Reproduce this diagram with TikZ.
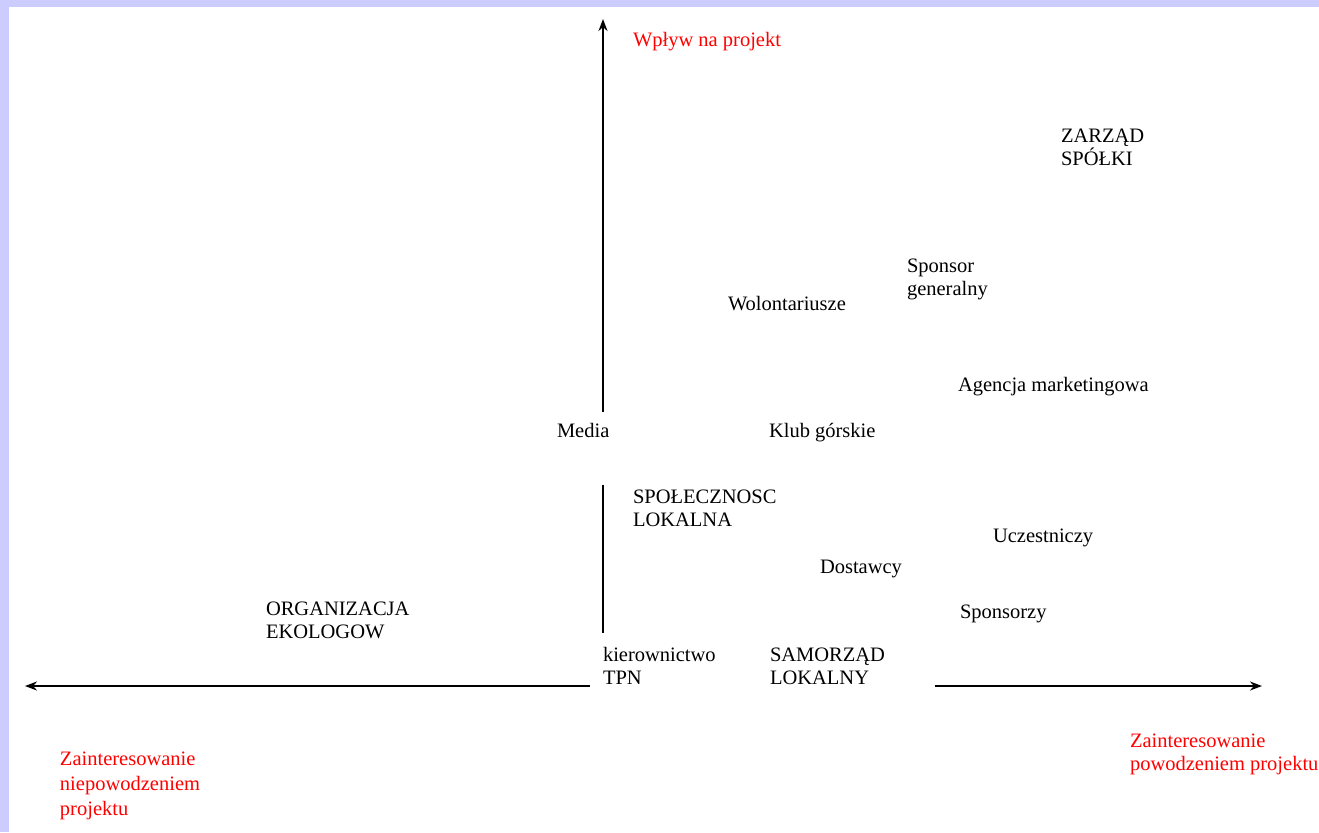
\documentclass[tikz,border=0pt]{standalone}
\usepackage{fontspec}
\setmainfont{Liberation Serif}
\usetikzlibrary{arrows.meta}

\begin{document}
\begin{tikzpicture}[x=0.5pt,y=-0.5pt,
lbl/.style={anchor=base west,inner sep=0pt,outer sep=0pt,align=left,font=\fontsize{10.25}{11.5}\selectfont},
redlbl/.style={lbl,text=red},
axis/.style={line width=1pt,-{Stealth[length=6pt,width=4.5pt]}}]

% frame
\fill[color={rgb,255:red,204;green,204;blue,255}] (0,0) rectangle (1319,832);
\fill[white] (9,7) rectangle (1319,832);
\useasboundingbox (0,0) rectangle (1319,832);

% axis ends
\coordinate (Ytop) at (603,19);
\coordinate (Ymid) at (603,412);
\coordinate (Ylow) at (603,485);
\coordinate (Ybot) at (603,633);
\coordinate (Xleft) at (25,686);
\coordinate (Xmid) at (590,686);
\coordinate (Xright) at (935,686);
\coordinate (Xend) at (1262,686);

\draw[axis] (Ymid) -- (Ytop);
\draw[line width=1pt] (Ylow) -- (Ybot);
\draw[axis] (Xmid) -- (Xleft);
\draw[axis] (Xright) -- (Xend);

% axis captions (base = last line)
\node[redlbl] (wplyw) at (633,46) {Wpływ na projekt};
\node[redlbl,font=\fontsize{10.25}{12.5}\selectfont] (niepow) at (60,815) {Zainteresowanie\\niepowodzeniem\\projektu};
\node[redlbl] (powodz) at (1130,770) {Zainteresowanie\\powodzeniem projektu};

% stakeholders
\node[lbl] (zarzad) at (1061,165) {ZARZĄD\\SPÓŁKI};
\node[lbl] (sponsgen) at (907,295) {Sponsor\\generalny};
\node[lbl] (wolont) at (728,310) {Wolontariusze};
\node[lbl] (agencja) at (958,391) {Agencja marketingowa};
\node[lbl] (media) at (557,437) {Media};
\node[lbl] (klub) at (769,437) {Klub górskie};
\node[lbl] (spolecz) at (633,526) {SPOŁECZNOSC\\LOKALNA};
\node[lbl] (uczest) at (993,542) {Uczestniczy};
\node[lbl] (dostawcy) at (820,573) {Dostawcy};
\node[lbl] (sponsorzy) at (960,618) {Sponsorzy};
\node[lbl] (ekolog) at (266,638) {ORGANIZACJA\\EKOLOGOW};
\node[lbl] (kierown) at (603,684) {kierownictwo\\TPN};
\node[lbl] (samorzad) at (770,684) {SAMORZĄD\\LOKALNY};

\end{tikzpicture}
\end{document}
